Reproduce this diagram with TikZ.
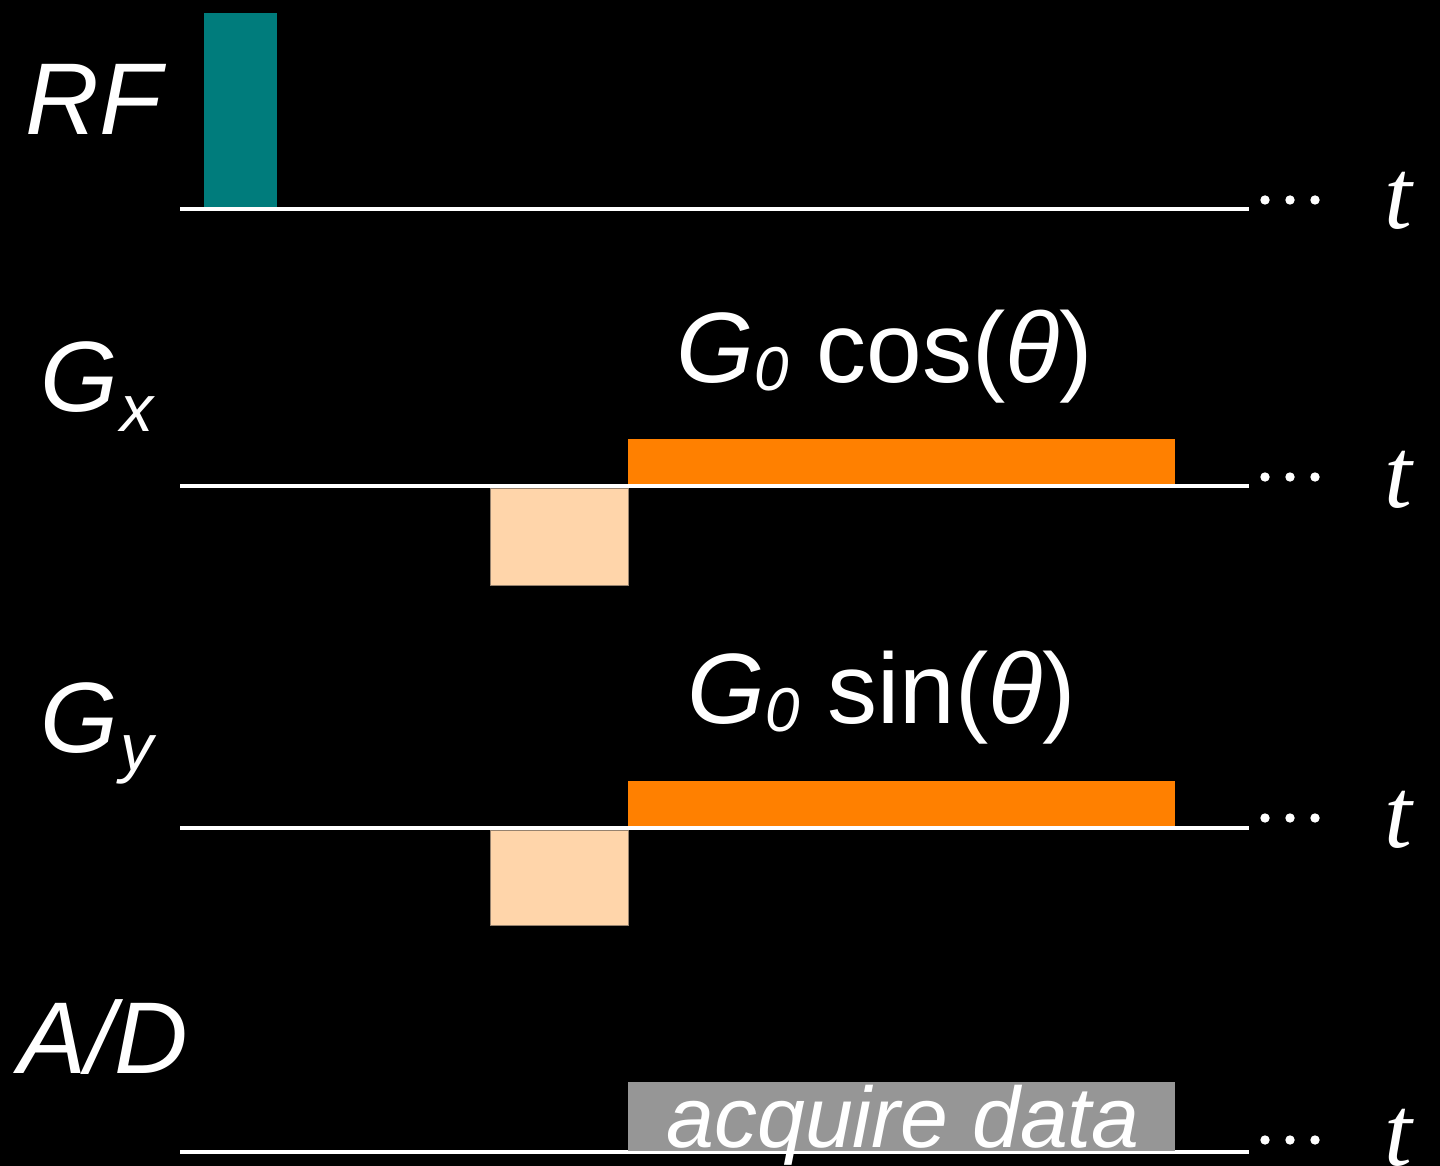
\documentclass[tikz,border=0pt]{standalone}
\usepackage{fontspec}
\setmainfont{Liberation Sans}
\newfontfamily\tfont{Liberation Serif}
\definecolor{teal0}{RGB}{0,124,124}
\definecolor{orng}{RGB}{255,128,0}
\definecolor{peach}{RGB}{255,213,170}
\definecolor{peachline}{RGB}{150,130,110}
\definecolor{grayb}{RGB}{150,150,150}
\tikzset{
  lbl/.style={anchor=base west,inner sep=0pt,text=white,font=\fontsize{51}{60}\selectfont\itshape},
  tlbl/.style={anchor=base west,inner sep=0pt,text=white,font=\tfont\fontsize{50}{60}\selectfont\itshape},
  axis/.style={draw=white,line width=2pt},
  dotc/.style={fill=white},
}
\begin{document}
\begin{tikzpicture}[x=0.5pt,y=-0.5pt]
\fill[black] (0,0) rectangle (1440,1166);
\useasboundingbox (0,0) rectangle (1440,1166);

% ---- RF row
\fill[teal0] (204,13) rectangle (277,207);
\coordinate (a1) at (180,209);
\coordinate (b1) at (1249,209);
\draw[axis] (a1) -- (b1);
\foreach \xx in {1265,1290,1315} \fill[dotc] (\xx,200) circle (4.7);
\node[lbl] (rf) at (25,135) {RF};
\node[tlbl] (t1) at (1384,229) {t};

% ---- Gx row
\fill[peach,draw=peachline,line width=0.4pt] (490,488) rectangle (628,585);
\fill[orng] (628,439) rectangle (1175,485);
\coordinate (a2) at (180,486);
\coordinate (b2) at (1249,486);
\draw[axis] (a2) -- (b2);
\foreach \xx in {1265,1290,1315} \fill[dotc] (\xx,477) circle (4.7);
\node[lbl,font=\fontsize{50}{60}\selectfont\itshape] (gx) at (40,411) {G\hspace{1pt}\raisebox{-10pt}{\fontsize{33}{33}\selectfont x}};
\node[lbl,font=\fontsize{50}{60}\selectfont] (g0c) at (676,382) {\itshape G\raisebox{-4pt}{\fontsize{31}{31}\selectfont 0}\upshape\ cos(\itshape θ\upshape)};
\node[tlbl] (t2) at (1384,507) {t};

% ---- Gy row
\fill[peach,draw=peachline,line width=0.4pt] (490,830) rectangle (628,925);
\fill[orng] (628,781) rectangle (1175,826);
\coordinate (a3) at (180,828);
\coordinate (b3) at (1249,828);
\draw[axis] (a3) -- (b3);
\foreach \xx in {1265,1290,1315} \fill[dotc] (\xx,818) circle (4.7);
\node[lbl,font=\fontsize{50}{60}\selectfont\itshape] (gy) at (40,752) {G\hspace{1pt}\raisebox{-9pt}{\fontsize{33}{33}\selectfont y}};
\node[lbl,font=\fontsize{50}{60}\selectfont] (g0s) at (687,723) {\itshape G\raisebox{-4pt}{\fontsize{31}{31}\selectfont 0}\upshape\ sin(\itshape θ\upshape)};
\node[tlbl] (t3) at (1384,847) {t};

% ---- A/D row
\fill[grayb] (628,1082) rectangle (1175,1151);
\coordinate (a4) at (180,1152);
\coordinate (b4) at (1249,1152);
\draw[axis] (a4) -- (b4);
\fill[grayb] (628,1082) rectangle (1175,1151);
\foreach \xx in {1265,1290,1315} \fill[dotc] (\xx,1140) circle (4.7);
\node[lbl] (ad) at (18,1073) {A/D};
\node[lbl,font=\fontsize{43}{50}\selectfont\itshape] (acq) at (666,1147) {acquire data};
\node[tlbl] (t4) at (1384,1165) {t};
\end{tikzpicture}
\end{document}
